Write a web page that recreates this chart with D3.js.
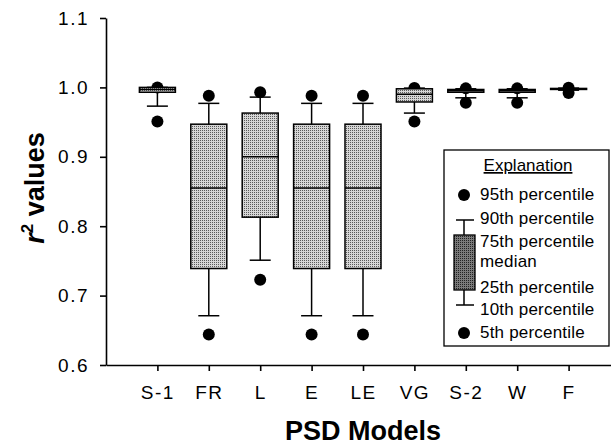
<!DOCTYPE html>
<html>
<head>
<meta charset="utf-8">
<script src="https://cdn.jsdelivr.net/npm/d3@7"></script>
<style>
  body { margin: 0; background: #fff; }
  svg { display: block; font-family: "Liberation Sans", Arial, Helvetica, sans-serif; }
  .axis path, .axis line { stroke: #000; stroke-width: 1.6px; }
  .axis text { font-size: 19px; fill: #000; letter-spacing: 1.5px; }
  .title { font-size: 27px; font-weight: bold; }
  .leg text { font-size: 17px; }
</style>
</head>
<body>
<svg id="chart" width="611" height="446"></svg>
<script>
// categories and percentile values
var models = ["S-1", "FR", "L", "E", "LE", "VG", "S-2", "W", "F"];
var p5  = [0.951, 0.644, 0.723, 0.644, 0.644, 0.951, 0.978, 0.978, 0.992];
var p10 = [0.973, 0.671, 0.751, 0.671, 0.671, 0.963, 0.985, 0.985, 0.996];
var q1  = [0.993, 0.739, 0.813, 0.739, 0.739, 0.979, 0.993, 0.993, 0.9975];
var med = [0.997, 0.855, 0.900, 0.855, 0.855, 0.990, 0.995, 0.995, 0.998];
var q3  = [1.000, 0.947, 0.963, 0.947, 0.947, 0.998, 0.997, 0.997, 0.9985];
var p90 = [1.000, 0.977, 0.986, 0.977, 0.977, 0.999, 0.998, 0.998, 0.999];
var p95 = [1.000, 0.988, 0.993, 0.988, 0.988, 0.999, 0.9986, 0.9986, 0.9995];
var yTicks = [0.6, 0.7, 0.8, 0.9, 1.0, 1.1];
var legendLabels = ["95th percentile", "90th percentile", "75th percentile",
                    "median", "25th percentile", "10th percentile", "5th percentile"];

var svg = d3.select("#chart");
var plotL = 106, plotR = 620, plotT = 18, plotB = 365;
var boxW = 36, capW = 21, dotR = 6;

var data = models.map(function(m, i) {
  return {name: m, i: i + 1, p5: p5[i], p10: p10[i], q1: q1[i], med: med[i],
          q3: q3[i], p90: p90[i], p95: p95[i]};
});

//scales
var x = d3.scaleLinear().domain([0, models.length + 1]).range([plotL, plotR]);
var y = d3.scaleLinear().domain([0.6, 1.1]).range([plotB, plotT]);

//stipple patterns
var defs = svg.append("defs");
function stipple(id, bg, fg) {
  var p = defs.append("pattern").attr("id", id)
    .attr("width", 2).attr("height", 2).attr("patternUnits", "userSpaceOnUse");
  p.append("rect").attr("width", 2).attr("height", 2).attr("fill", bg);
  p.append("rect").attr("width", 1).attr("height", 1).attr("fill", fg);
}
stipple("light", "#d6d6d6", "#5a5a5a");
stipple("dark", "#7a7a7a", "#222");

//axes
svg.append("g")
  .attr("class", "axis")
  .attr("transform", "translate(" + plotL + ",0)")
  .call(d3.axisLeft(y).tickValues(yTicks).tickFormat(d3.format(".1f"))
    .tickSize(6).tickSizeOuter(0).tickPadding(11));

svg.append("g")
  .attr("class", "axis")
  .attr("transform", "translate(0," + plotB + ")")
  .call(d3.axisBottom(x).tickValues(data.map(function(d) { return d.i; }))
    .tickFormat(function(v) { return models[v - 1]; })
    .tickSize(6).tickSizeOuter(0).tickPadding(15));

//boxes
var g = svg.selectAll("g.box").data(data).enter().append("g").attr("class", "box");

g.selectAll("circle").data(function(d) {
    return [{i: d.i, v: d.p5}, {i: d.i, v: d.p95}];
  }).enter().append("circle")
  .attr("cx", function(d) { return x(d.i); })
  .attr("cy", function(d) { return y(d.v); })
  .attr("r", dotR).attr("fill", "#000");

g.append("line")
  .attr("x1", function(d) { return x(d.i); }).attr("x2", function(d) { return x(d.i); })
  .attr("y1", function(d) { return y(d.p10); }).attr("y2", function(d) { return y(d.p90); })
  .attr("stroke", "#000").attr("stroke-width", 1.5);

g.selectAll("line.cap").data(function(d) {
    return [{i: d.i, v: d.p10}, {i: d.i, v: d.p90}];
  }).enter().append("line").attr("class", "cap")
  .attr("x1", function(d) { return x(d.i) - capW / 2; })
  .attr("x2", function(d) { return x(d.i) + capW / 2; })
  .attr("y1", function(d) { return y(d.v); }).attr("y2", function(d) { return y(d.v); })
  .attr("stroke", "#000").attr("stroke-width", 1.5);

g.append("rect")
  .attr("x", function(d) { return x(d.i) - boxW / 2; })
  .attr("y", function(d) { return y(d.q3); })
  .attr("width", boxW)
  .attr("height", function(d) { return Math.max(y(d.q1) - y(d.q3), 1); })
  .attr("fill", "url(#light)").attr("stroke", "#000").attr("stroke-width", 1.5);

g.append("line")
  .attr("x1", function(d) { return x(d.i) - boxW / 2; })
  .attr("x2", function(d) { return x(d.i) + boxW / 2; })
  .attr("y1", function(d) { return y(d.med); }).attr("y2", function(d) { return y(d.med); })
  .attr("stroke", "#000").attr("stroke-width", 1.5);

//axis titles
svg.append("text").attr("class", "title")
  .attr("x", (plotL + plotR) / 2).attr("y", 440)
  .attr("text-anchor", "middle").text("PSD Models");

var yt = svg.append("text").attr("class", "title")
  .attr("transform", "translate(44,188) rotate(-90)")
  .attr("text-anchor", "middle");
yt.append("tspan").attr("font-style", "italic").text("r");
yt.append("tspan").attr("font-size", "17px").attr("dy", -11).text("2");
yt.append("tspan").attr("dy", 11).text(" values");

//legend
var leg = svg.append("g").attr("class", "leg");
leg.append("rect").attr("x", 444).attr("y", 150).attr("width", 165).attr("height", 196)
  .attr("fill", "#fff").attr("stroke", "#000").attr("stroke-width", 1.3);
leg.append("text").attr("x", 528).attr("y", 171).attr("text-anchor", "middle")
  .attr("font-size", "19px").attr("text-decoration", "underline").text("Explanation");

var rowY = [200, 224, 247, 267, 293, 315, 338];
leg.selectAll("text.lab").data(legendLabels).enter().append("text").attr("class", "lab")
  .attr("x", 480).attr("y", function(d, i) { return rowY[i]; })
  .attr("letter-spacing", "0.2px")
  .text(function(d) { return d; });

var lx = 464;
leg.append("circle").attr("cx", lx).attr("cy", 195).attr("r", dotR);
leg.append("circle").attr("cx", lx).attr("cy", 333).attr("r", dotR);
leg.append("line").attr("x1", lx).attr("x2", lx).attr("y1", 220).attr("y2", 305)
  .attr("stroke", "#000").attr("stroke-width", 1.5);
leg.append("line").attr("x1", lx - 8).attr("x2", lx + 10).attr("y1", 220).attr("y2", 220)
  .attr("stroke", "#000").attr("stroke-width", 1.5);
leg.append("line").attr("x1", lx - 8).attr("x2", lx + 10).attr("y1", 305).attr("y2", 305)
  .attr("stroke", "#000").attr("stroke-width", 1.5);
leg.append("rect").attr("x", 454).attr("y", 235).attr("width", 21).attr("height", 55)
  .attr("fill", "url(#dark)").attr("stroke", "#000").attr("stroke-width", 1.3);
</script>
</body>
</html>
